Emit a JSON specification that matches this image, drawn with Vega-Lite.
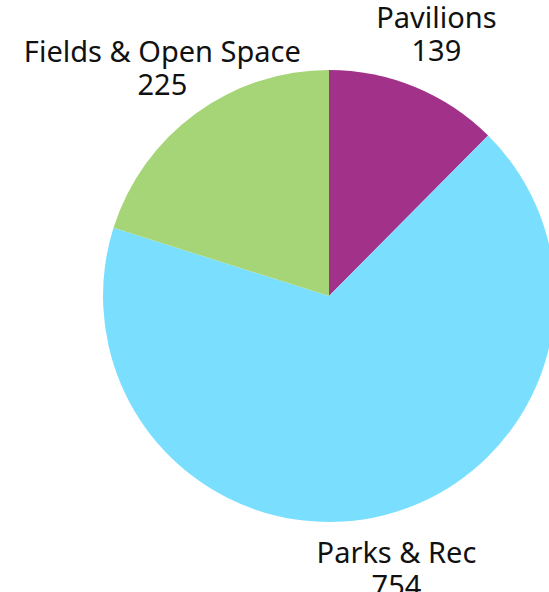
{
  "$schema": "https://vega.github.io/schema/vega-lite/v6.json",
  "autosize": "none",
  "padding": 0,
  "width": 658,
  "height": 592,
  "background": "white",
  "data": {
    "values": [
      {"category": "Pavilions", "value": 139, "ord": 1},
      {"category": "Parks & Rec", "value": 754, "ord": 2},
      {"category": "Fields & Open Space", "value": 225, "ord": 3}
    ]
  },
  "transform": [
    {"calculate": "datum.category + '\\n' + datum.value", "as": "label"}
  ],
  "encoding": {
    "theta": {"field": "value", "type": "quantitative", "stack": true},
    "order": {"field": "ord", "type": "quantitative"},
    "color": {
      "field": "category",
      "type": "nominal",
      "scale": {
        "domain": ["Pavilions", "Parks & Rec", "Fields & Open Space"],
        "range": ["#A23189", "#7ADFFE", "#A6D578"]
      },
      "legend": null
    }
  },
  "layer": [
    {"mark": {"type": "arc", "outerRadius": 226}},
    {
      "mark": {
        "type": "text",
        "radius": 282,
        "dy": -16,
        "font": "Noto Sans",
        "fontSize": 29,
        "lineBreak": "\n",
        "lineHeight": 33,
        "align": "center",
        "baseline": "middle"
      },
      "encoding": {
        "text": {"field": "label"},
        "color": {"value": "#111111"}
      }
    }
  ]
}
